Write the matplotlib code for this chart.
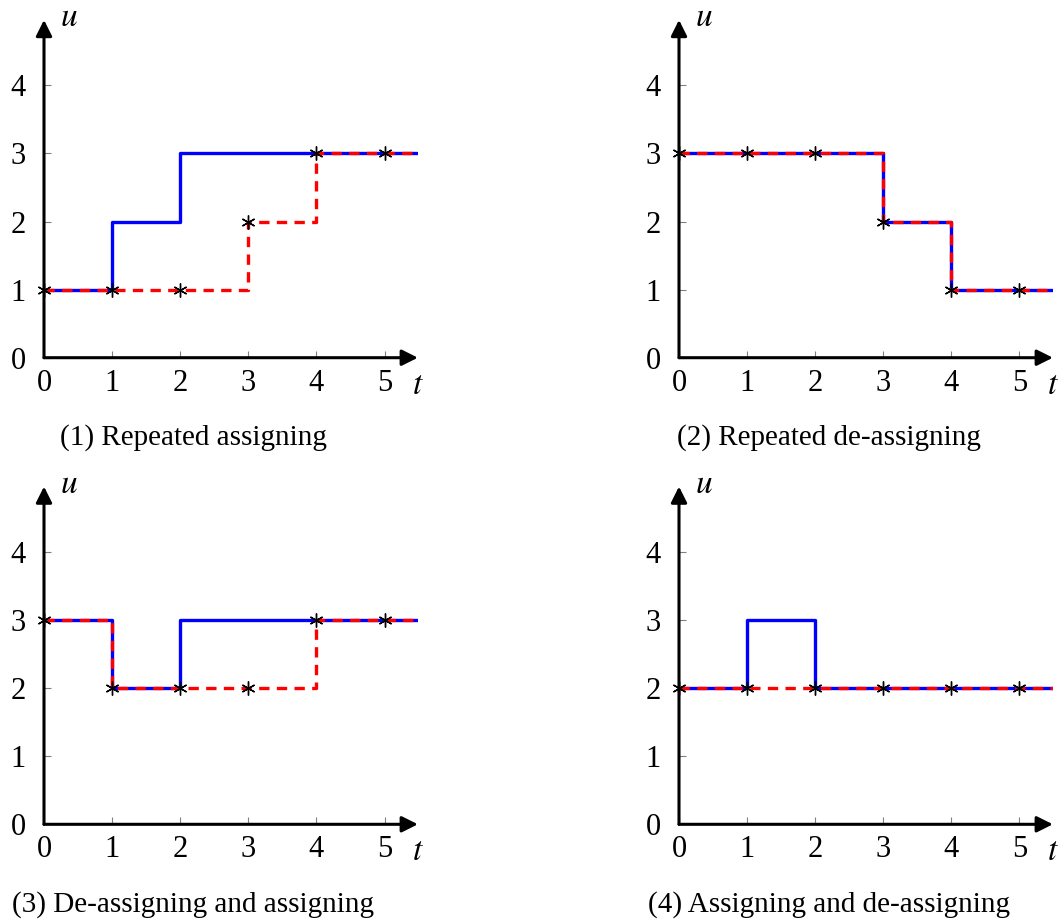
import matplotlib.pyplot as plt

plt.rcParams["mathtext.fontset"] = "stix"

# step values u(t) for t = 0..5 (held until next step)
t = [0, 1, 2, 3, 4, 5, 5.5]

blue_1 = [1, 2, 3, 3, 3, 3, 3]
red_1 = [1, 1, 1, 2, 3, 3, 3]

blue_2 = [3, 3, 3, 2, 1, 1, 1]
red_2 = [3, 3, 3, 2, 1, 1, 1]

blue_3 = [3, 2, 3, 3, 3, 3, 3]
red_3 = [3, 2, 2, 2, 3, 3, 3]

blue_4 = [2, 3, 2, 2, 2, 2, 2]
red_4 = [2, 2, 2, 2, 2, 2, 2]

titles = ["(1) Repeated assigning", "(2) Repeated de-assigning",
          "(3) De-assigning and assigning", "(4) Assigning and de-assigning"]

panels = [(blue_1, red_1), (blue_2, red_2), (blue_3, red_3), (blue_4, red_4)]

W, H = 1062, 922
SERIF = "Liberation Serif"
FS = 22

fig = plt.figure(figsize=(W / 100, H / 100), dpi=100)

# origin pixel (x, y from top) of each panel, caption centre x
origins = [(44, 357.7), (679, 357.7), (44, 824.3), (679, 824.3)]
caption_x = [193, 829, 193, 829]
unit = 68.1
xmax, ymax = 5.49, 4.96

for i, ((bl, rd), (ox, oy)) in enumerate(zip(panels, origins)):
    ax = fig.add_axes([ox / W, (H - oy) / H, xmax * unit / W, ymax * unit / H])
    ax.set_xlim(0, xmax)
    ax.set_ylim(0, ymax)
    for s in ax.spines.values():
        s.set_visible(False)
    ax.patch.set_alpha(0)

    ax.step(t, bl, where="post", color="blue", lw=2.4, zorder=3)
    ax.step(t, rd, where="post", color="red", lw=2.4, ls=(0, (3.1, 2.2)),
            zorder=4)
    ax.plot(t[:6], rd[:6], ls="none", marker=(6, 2, 0), ms=10, mew=1.0,
            color="black", zorder=5, clip_on=False)

    # axes arrows
    ax.annotate("", xy=(1, 0), xytext=(0, 0), xycoords="axes fraction",
                arrowprops=dict(arrowstyle="-|>", lw=2.2, color="black",
                                mutation_scale=24, shrinkA=0, shrinkB=0))
    ax.annotate("", xy=(0, 1), xytext=(0, 0), xycoords="axes fraction",
                arrowprops=dict(arrowstyle="-|>", lw=2.2, color="black",
                                mutation_scale=24, shrinkA=0, shrinkB=0))

    ax.set_xticks(range(6))
    ax.set_yticks(range(5))
    ax.tick_params(direction="in", length=5, width=0.8, color="gray",
                   labelsize=FS, pad=8)
    ax.tick_params(axis="y", pad=13)
    for lab in ax.get_xticklabels() + ax.get_yticklabels():
        lab.set_fontfamily(SERIF)

    ax.text(1.0, -0.03, "$t$", transform=ax.transAxes, fontsize=FS + 2,
            ha="center", va="top")
    ax.text(0.043, 1.01, "$u$", transform=ax.transAxes, fontsize=FS + 2,
            ha="left", va="center")

    fig.text(caption_x[i] / W, (H - oy - 80) / H, titles[i], ha="center",
             va="center", fontsize=21, family=SERIF)

fig.savefig("out.png", dpi=100)
